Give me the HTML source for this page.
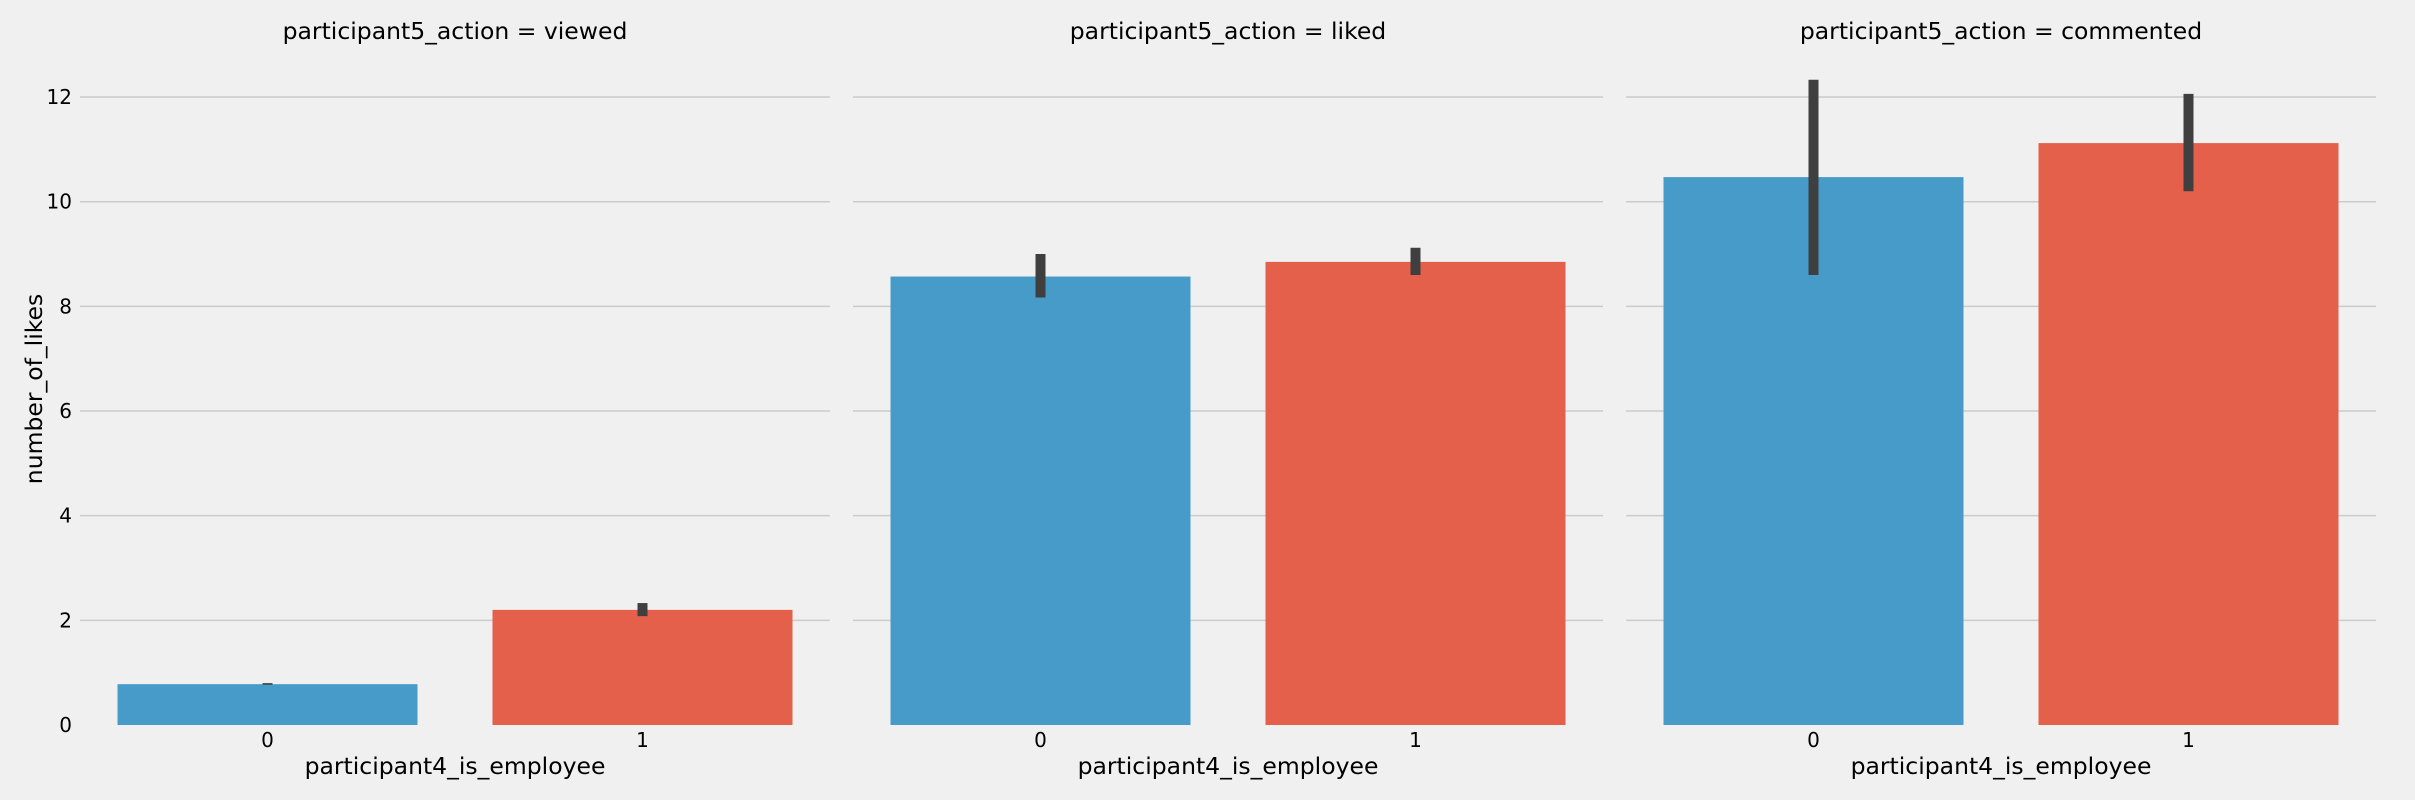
<!DOCTYPE html>
<html><head><meta charset="utf-8">
<style>
html,body{margin:0;padding:0;background:#f0f0f0;}
svg{display:block;font-family:"DejaVu Sans","Liberation Sans",sans-serif;}
</style></head>
<body>
<svg id="chart" width="2415" height="800" viewBox="0 0 2415 800">
<rect width="2415" height="800" fill="#f0f0f0"/>
</svg>
<script>
const panels = ["viewed", "liked", "commented"];
const categories = ["0", "1"];
const meanValues = [[0.78, 2.2], [8.57, 8.85], [10.47, 11.12]];
const ciLow = [[0.77, 2.08], [8.17, 8.6], [8.6, 10.2]];
const ciHigh = [[0.80, 2.33], [9.0, 9.12], [12.33, 12.06]];
const yTicks = [0, 2, 4, 6, 8, 10, 12];

const NS = "http://www.w3.org/2000/svg";
const svg = document.getElementById("chart");
const panelLeft = [80, 853, 1626];
const panelW = 750;
const y0 = 725, pxPerUnit = 52.33;
const colors = ["#469bc8", "#e5604a"];
function yScale(v){ return y0 - v * pxPerUnit; }
function xCenter(p, i){ return panelLeft[p] + panelW / categories.length * (i + 0.5); }
function mk(tag, attrs){ const e = document.createElementNS(NS, tag); for (const k in attrs) e.setAttribute(k, attrs[k]); svg.appendChild(e); return e; }

panels.forEach((name, p) => {
  const L = panelLeft[p];
  yTicks.forEach(t => {
    if (t === 0) return;
    const g = mk("line", {x1: L, x2: L + panelW, y1: yScale(t), y2: yScale(t), stroke: "#cbcbcb", "stroke-width": 1.5});
    
    
  });
  if (p === 0) {
    yTicks.forEach(t => {
      const tl = mk("text", {x: 72, y: yScale(t) + 7, "text-anchor": "end", "font-size": 20, fill: "#000"});
      tl.textContent = t;
      
      
    });
  }
  const bw = panelW / categories.length * 0.8;
  categories.forEach((c, i) => {
    const cx = xCenter(p, i);
    const v = meanValues[p][i];
    const b = mk("rect", {x: cx - bw / 2, y: yScale(v), width: bw, height: y0 - yScale(v), fill: colors[i]});
    
    
    const e = mk("line", {x1: cx, x2: cx, y1: yScale(ciLow[p][i]), y2: yScale(ciHigh[p][i]), stroke: "#3f3f3f", "stroke-width": 10});
    
    
    const xt = mk("text", {x: cx, y: 747, "text-anchor": "middle", "font-size": 20, fill: "#000"});
    xt.textContent = c;
    
    
  });
  const title = mk("text", {x: L + panelW / 2, y: 39, "text-anchor": "middle", "font-size": 23.5, fill: "#000"});
  title.textContent = "participant5_action = " + name;
  
  
  const xl = mk("text", {x: L + panelW / 2, y: 774, "text-anchor": "middle", "font-size": 23.5, fill: "#000"});
  xl.textContent = "participant4_is_employee";
  
  
});
const yl = mk("text", {x: 0, y: 0, "text-anchor": "middle", "font-size": 23.5, fill: "#000", transform: "translate(42,389) rotate(-90)"});
yl.textContent = "number_of_likes";


</script>
</body></html>
